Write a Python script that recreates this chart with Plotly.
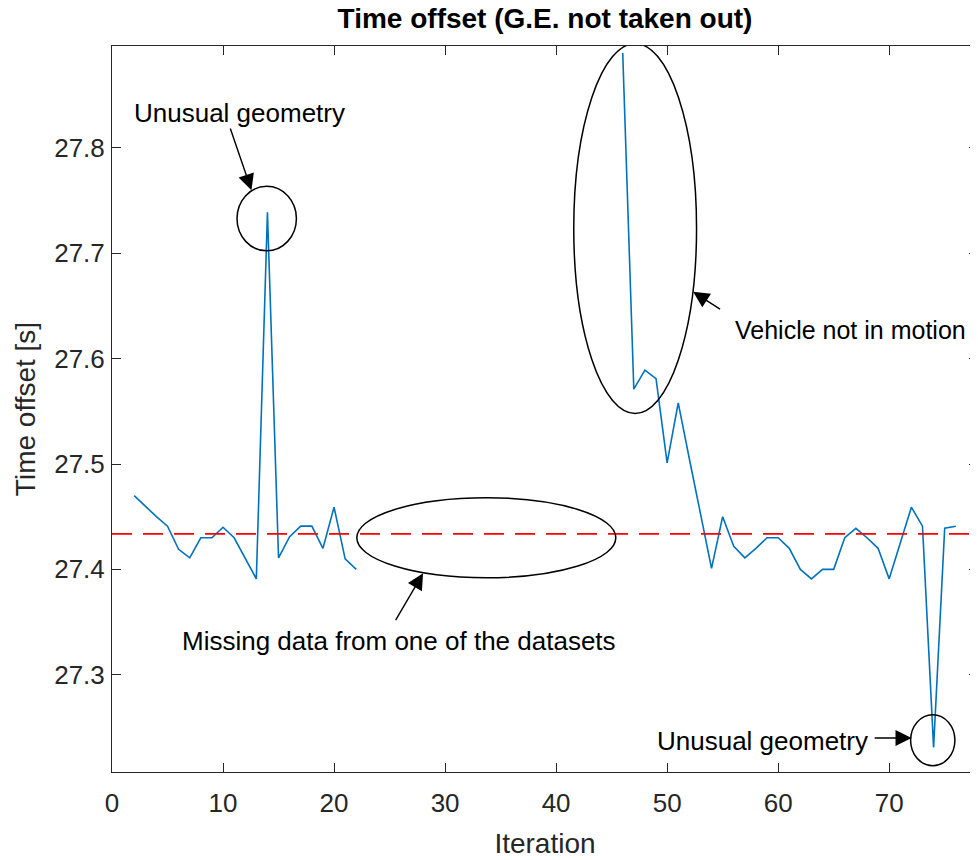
import plotly.graph_objects as go

# iterations with data (iterations 23-45 missing from one dataset)
iter_a = [2, 3, 4, 5, 6, 7, 8, 9, 10, 11, 12, 13, 14, 15, 16, 17, 18, 19, 20, 21, 22]
offset_a = [27.470, 27.460, 27.450, 27.441, 27.419, 27.411, 27.430, 27.430, 27.440, 27.430,
            27.410, 27.391, 27.739, 27.411, 27.431, 27.441, 27.441, 27.420, 27.459, 27.410, 27.400]

iter_b = [46, 47, 48, 49, 50, 51, 52, 53, 54, 55, 56, 57, 58, 59, 60, 61,
          62, 63, 64, 65, 66, 67, 68, 69, 70, 71, 72, 73, 74, 75, 76]
offset_b = [27.890, 27.571, 27.589, 27.581, 27.501, 27.558, 27.505, 27.453, 27.401, 27.450,
            27.422, 27.411, 27.420, 27.430, 27.430, 27.420, 27.400, 27.391, 27.400, 27.400,
            27.430, 27.439, 27.430, 27.420, 27.391, 27.425, 27.459, 27.441, 27.231, 27.439, 27.441]

mean_offset = 27.4337

x_ticks = [0, 10, 20, 30, 40, 50, 60, 70]
y_ticks = [27.3, 27.4, 27.5, 27.6, 27.7, 27.8]

FONT = "Liberation Sans, Arial, Helvetica, sans-serif"
AX_COLOR = "#262626"

fig = go.Figure()

fig.add_trace(go.Scatter(
    x=iter_a + [None] + iter_b,
    y=offset_a + [None] + offset_b,
    mode="lines",
    line=dict(color="#0072BD", width=1.6),
    connectgaps=False,
    showlegend=False,
))

fig.add_trace(go.Scatter(
    x=[0, 78],
    y=[mean_offset, mean_offset],
    mode="lines",
    line=dict(color="#FF0000", width=1.6, dash="20px,11px"),
    showlegend=False,
))

ellipse = dict(type="circle", xref="x", yref="y", line=dict(color="black", width=1.5))
fig.update_layout(shapes=[
    dict(ellipse, x0=11.26, x1=16.61, y0=27.7023, y1=27.7636),
    dict(ellipse, x0=41.59, x1=52.65, y0=27.548, y1=27.899),
    dict(ellipse, x0=22.05, x1=45.38, y0=27.392, y1=27.468),
    dict(ellipse, x0=71.93, x1=75.92, y0=27.2137, y1=27.262),
])

txt_font = dict(family=FONT, size=26, color="black")
arrow = dict(text="", showarrow=True, arrowhead=2, arrowsize=2.3, arrowwidth=1.4,
             arrowcolor="black", axref="x", ayref="y", xref="x", yref="y")
annotations = [
    dict(text="Unusual geometry", x=11.5, y=27.8329, showarrow=False, font=txt_font),
    dict(arrow, x=12.56, y=27.7598, ax=10.61, ay=27.8199),
    dict(text="Vehicle not in motion", x=55.97, y=27.6271, xanchor="left",
         showarrow=False, font=dict(txt_font, size=25)),
    dict(arrow, x=52.34, y=27.6634, ax=54.90, ay=27.646),
    dict(text="Missing data from one of the datasets", x=25.85, y=27.3316,
         showarrow=False, font=txt_font),
    dict(arrow, x=28.02, y=27.3964, ax=25.47, ay=27.3505),
    dict(text="Unusual geometry", x=68.24, y=27.2368, xanchor="right",
         showarrow=False, font=txt_font),
    dict(arrow, x=72.02, y=27.24, ax=68.56, ay=27.24),
]
fig.update_layout(annotations=annotations)

axis_common = dict(
    showline=True, linecolor=AX_COLOR, linewidth=1, mirror="ticks",
    ticks="inside", ticklen=9, tickcolor=AX_COLOR, tickwidth=1,
    showgrid=False, zeroline=False, automargin=False,
    tickfont=dict(family=FONT, size=26, color=AX_COLOR),
)

# the page body adds an 8px offset, so the figure is 970x852
fig.update_layout(
    width=970, height=852,
    margin=dict(l=104, r=0, t=38, b=88),
    paper_bgcolor="white", plot_bgcolor="white",
    title=dict(text="<b>Time offset (G.E. not taken out)</b>", x=0.5, xref="paper",
               y=1.0, yref="container", yanchor="top",
               font=dict(family=FONT, size=28, color="black")),
    xaxis=dict(axis_common, range=[0, 78], tickvals=x_ticks, ticklabelstandoff=8,
               title=dict(text="Iteration", standoff=16,
                          font=dict(family=FONT, size=28, color=AX_COLOR))),
    yaxis=dict(axis_common, range=[27.2077, 27.8967], tickvals=y_ticks,
               ticklabelstandoff=1,
               title=dict(text="Time offset [s]", standoff=10,
                          font=dict(family=FONT, size=28, color=AX_COLOR))),
    showlegend=False,
)

fig.write_html("out.html")
